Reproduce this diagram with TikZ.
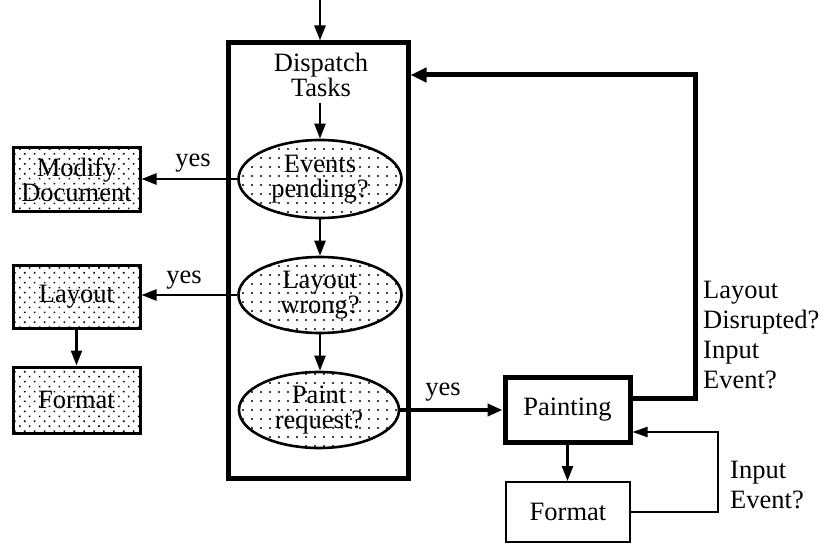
\documentclass[tikz,border=0pt]{standalone}
\usepackage{fontspec}
\setmainfont{Liberation Serif}
\usetikzlibrary{arrows.meta,patterns.meta,shapes.geometric}
\begin{document}
\begin{tikzpicture}[x=1pt,y=-1pt,
  every node/.style={font=\fontsize{26.5}{25}\selectfont, inner sep=0pt},
  tip/.style={-{Triangle[length=15pt,width=11pt]}},
  conn/.style={tip, line width=2.4pt},
  thickconn/.style={-{Triangle[length=15pt,width=12pt]}, line width=4pt},
  ellnode/.style={ellipse, draw, line width=2.6pt, align=center,
     pattern={Dots[radius=1.1pt,distance=9pt]}},
  dotbox/.style={rectangle, draw, line width=3pt, align=center,
     minimum width=127pt, pattern={Dots[radius=1.1pt,distance=7pt,angle=45]}},
  plainbox/.style={rectangle, draw, align=center},
  lbl/.style={align=left, anchor=north west, font=\fontsize{26.5}{30}\selectfont}
]
\useasboundingbox (0,0) rectangle (832,545);
% main box
\node[rectangle, draw, line width=5pt, minimum width=180pt, minimum height=435pt] (main) at (318,260.5) {};
\node[align=center] (disp) at (321,75) {Dispatch\\Tasks};
\node[ellnode, minimum width=163pt, minimum height=78pt] (ev) at (320,179) {Events\\pending?};
\node[ellnode, minimum width=163pt, minimum height=76pt] (lw) at (320,295) {Layout\\wrong?};
\node[ellnode, minimum width=160pt, minimum height=76pt] (pr) at (319,410) {Paint\\request?};
% left boxes
\node[dotbox, minimum height=64pt] (mod) at (76.5,180) {Modify\\Document};
\node[dotbox, minimum height=62pt] (lay) at (76.5,297) {Layout};
\node[dotbox, minimum height=66pt] (fmtl) at (76.5,400) {Format};
% right boxes
\node[plainbox, line width=5pt, minimum width=125pt, minimum height=65pt] (paint) at (567.5,409.5) {Painting};
\node[plainbox, line width=2pt, minimum width=124pt, minimum height=60pt] (fmtr) at (568,512) {Format};
% labels
\node (y1) at (193,163) {yes};
\node (y2) at (184,280) {yes};
\node (y3) at (443,392) {yes};
\node[lbl] (lab1) at (703,281) {Layout\\Disrupted?\\Input\\Event?};
\node[lbl] (lab2) at (730,461) {Input\\Event?};
% coordinates
\coordinate (top) at (320,0);
\coordinate (fb) at (695,75);
\coordinate (lp) at (718,512);
% connectors
\draw[conn] (top) -- (top |- main.north);
\draw[conn] (disp.south -| ev.north) ++(0,6) -- (ev.north);
\draw[conn] (ev.south) -- (ev.south |- lw.north);
\draw[conn] (lw.south) -- (lw.south |- pr.north);
\draw[conn] (ev.west) -- (ev.west -| mod.east);
\draw[conn] (lw.west) -- (lw.west -| lay.east);
\draw[conn] (lay.south) -- (fmtl.north);
\draw[thickconn] (pr.east) -- (pr.east -| paint.west);
\draw[conn] (paint.south) -- (paint.south |- fmtr.north);
\draw[line width=5pt, -{Triangle[length=16pt,width=14pt]}] ([yshift=11.5pt]paint.east) -| (fb) -- (fb -| main.east);
\draw[line width=2pt, -{Triangle[length=15pt,width=10pt]}] (fmtr.east) -- (lp) |- ([yshift=-22.5pt]paint.east);
\end{tikzpicture}
\end{document}
